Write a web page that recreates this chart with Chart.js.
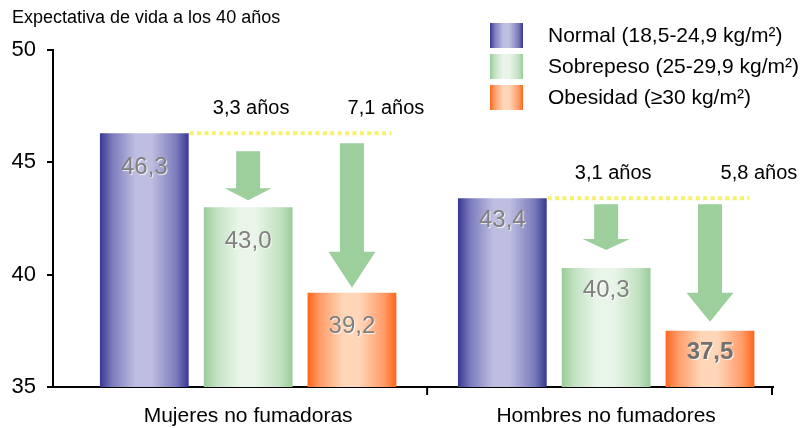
<!DOCTYPE html>
<html>
<head>
<meta charset="utf-8">
<script src="https://cdn.jsdelivr.net/npm/chart.js@4.4.1/dist/chart.umd.min.js"></script>
<style>
  html, body { margin: 0; padding: 0; background: #fff; }
  #wrap { width: 807px; height: 428px; }
</style>
</head>
<body>
<div id="wrap"><canvas id="c" width="807" height="428"></canvas></div>
<script>
// Life expectancy at age 40 by BMI group, non-smokers
const groups = ['Mujeres no fumadoras', 'Hombres no fumadores'];
const seriesNames = ['Normal (18,5-24,9 kg/m²)', 'Sobrepeso (25-29,9 kg/m²)', 'Obesidad (≥30 kg/m²)'];
const normal = [46.3, 43.4];
const sobrepeso = [43.0, 40.3];
const obesidad = [39.2, 37.5];
const yTicks = [35, 40, 45, 50];
const lossLabels = [['3,3 años', '7,1 años'], ['3,1 años', '5,8 años']];
const yTitle = 'Expectativa de vida a los 40 años';

const series = [normal, sobrepeso, obesidad];
const FONT = "'Liberation Sans', Arial, Helvetica, sans-serif";

// edge / middle / light tones of each bar's cylinder shading
const palettes = [
  { edge: '#373793', mid: '#7b7bbc', light: '#bebee1' },
  { edge: '#99cc99', mid: '#c2e2c2', light: '#eaf5ea' },
  { edge: '#ff661c', mid: '#ff9c68', light: '#ffd6b8' }
];

function shade(ctx, x0, x1, pal) {
  const g = ctx.createLinearGradient(x0, 0, x1, 0);
  g.addColorStop(0, pal.edge);
  g.addColorStop(0.14, pal.mid);
  g.addColorStop(0.4, pal.light);
  g.addColorStop(0.58, pal.light);
  g.addColorStop(0.86, pal.mid);
  g.addColorStop(1, pal.edge);
  return g;
}

function barFill(c, s) {
  const el = c.element;
  if (!el || !el.width) return palettes[s].mid;
  return shade(c.chart.ctx, el.x - el.width / 2, el.x + el.width / 2, palettes[s]);
}

// per-group drop of the value label below the bar top, and annotation styling
const valueDrop = [34, 22];
const valueBold = [[false, false, false], [false, false, true]];
const arrowStyle = [
  [{ start: 18, gap: 7, head: 12 }, { start: 10, gap: 5, head: 36 }],
  [{ start: 6, gap: 18, head: 11 }, { start: 6, gap: 9, head: 29 }]
];
const lossDx = [[3, 34], [7, 49]];

function drawArrow(ctx, cx, top, tip, head) {
  const shaft = 12, wing = 23.5;
  ctx.beginPath();
  ctx.moveTo(cx - shaft, top);
  ctx.lineTo(cx + shaft, top);
  ctx.lineTo(cx + shaft, tip - head);
  ctx.lineTo(cx + wing, tip - head);
  ctx.lineTo(cx, tip);
  ctx.lineTo(cx - wing, tip - head);
  ctx.lineTo(cx - shaft, tip - head);
  ctx.closePath();
  ctx.fill();
}

const decorations = {
  id: 'decorations',
  afterDatasetsDraw(chart) {
    const ctx = chart.ctx;
    const y = chart.scales.y;
    const metas = series.map((_, d) => chart.getDatasetMeta(d));

    groups.forEach((g, i) => {
      const nb = metas[0].data[i];
      const ob = metas[2].data[i];
      const refY = y.getPixelForValue(normal[i]);

      // dotted reference line at the normal-weight level
      ctx.save();
      ctx.strokeStyle = '#f7f06c';
      ctx.lineWidth = 4;
      ctx.setLineDash([4, 3.4]);
      ctx.beginPath();
      ctx.moveTo(nb.x + nb.width / 2 + 1, refY);
      ctx.lineTo(ob.x + ob.width / 2 - 5, refY);
      ctx.stroke();
      ctx.restore();

      // loss arrows and their labels
      [1, 2].forEach((d, k) => {
        const bar = metas[d].data[i];
        const st = arrowStyle[i][k];
        ctx.save();
        ctx.fillStyle = '#9dcf9d';
        drawArrow(ctx, bar.x, refY + st.start, bar.y - st.gap, st.head);
        ctx.fillStyle = '#000';
        ctx.font = '20px ' + FONT;
        ctx.textAlign = 'center';
        ctx.textBaseline = 'middle';
        ctx.fillText(lossLabels[i][k], bar.x + lossDx[i][k], refY - 25);
        ctx.restore();
      });

      // value labels inside the bars
      series.forEach((vals, d) => {
        const bar = metas[d].data[i];
        ctx.save();
        ctx.font = (valueBold[i][d] ? 'bold ' : '') + '24px ' + FONT;
        ctx.textAlign = 'center';
        ctx.textBaseline = 'middle';
        ctx.shadowColor = 'rgba(255,255,255,0.85)';
        ctx.shadowOffsetX = 1;
        ctx.shadowOffsetY = 1;
        ctx.shadowBlur = 1;
        ctx.fillStyle = valueBold[i][d] ? '#707070' : '#808080';
        ctx.fillText(vals[i].toFixed(1).replace('.', ','), bar.x, bar.y + valueDrop[i]);
        ctx.restore();
      });
    });

    // category separator ticks below the x axis
    const x = chart.scales.x;
    const area = chart.chartArea;
    ctx.save();
    ctx.strokeStyle = '#000';
    ctx.lineWidth = 2;
    const seps = [(x.getPixelForValue(0) + x.getPixelForValue(1)) / 2, area.right - 1];
    seps.forEach(px => {
      ctx.beginPath();
      ctx.moveTo(px, area.bottom);
      ctx.lineTo(px, area.bottom + 8);
      ctx.stroke();
    });
    ctx.restore();
  },
  afterDraw(chart) {
    const ctx = chart.ctx;
    ctx.save();
    // axis title
    ctx.fillStyle = '#000';
    ctx.font = '18px ' + FONT;
    ctx.textAlign = 'left';
    ctx.textBaseline = 'alphabetic';
    ctx.fillText(yTitle, 12, 23);

    // legend
    const tops = [23, 54, 85];
    seriesNames.forEach((name, s) => {
      const bx = 490, bw = 33, bh = 25, by = tops[s];
      ctx.fillStyle = shade(ctx, bx, bx + bw, palettes[s]);
      ctx.fillRect(bx, by, bw, bh);
      ctx.fillStyle = '#000';
      ctx.font = '21px ' + FONT;
      ctx.textBaseline = 'middle';
      ctx.fillText(name, 548, by + bh / 2 + 1);
    });
    ctx.restore();
  }
};

const chart = new Chart(document.getElementById('c'), {
  type: 'bar',
  data: {
    datasets: series.map((vals, s) => ({
      label: seriesNames[s],
      data: vals.map((v, i) => ({ x: i, y: v })),
      backgroundColor: c => barFill(c, s),
      borderWidth: 0
    }))
  },
  options: {
    responsive: false,
    animation: false,
    events: [],
    layout: { padding: { top: 50, right: 34, left: 0, bottom: 0 } },
    datasets: { bar: { categoryPercentage: 0.87, barPercentage: 0.855 } },
    plugins: {
      legend: { display: false },
      tooltip: { enabled: false },
      title: { display: false }
    },
    scales: {
      x: {
        type: 'linear',
        min: -0.545,
        max: 1.466,
        offset: false,
        afterBuildTicks: s => { s.ticks = groups.map((_, i) => ({ value: i })); },
        grid: { display: true, drawOnChartArea: false, drawTicks: false, color: '#000', lineWidth: 2 },
        border: { display: true, color: '#000', width: 2 },
        ticks: {
          callback: v => groups[v],
          font: { family: FONT, size: 21 },
          color: '#000',
          padding: 17,
          maxRotation: 0,
          autoSkip: false
        },
        afterFit: s => { s.height = 41; }
      },
      y: {
        min: 35,
        max: 50,
        afterBuildTicks: s => { s.ticks = yTicks.map(v => ({ value: v })); },
        grid: { display: true, drawOnChartArea: false, drawTicks: true, tickLength: 6, color: '#000', lineWidth: 2 },
        border: { display: true, color: '#000', width: 2 },
        ticks: { font: { family: FONT, size: 22 }, color: '#000', padding: 11 },
        afterFit: s => { s.width = 53; }
      }
    }
  },
  plugins: [decorations]
});
// second pass so the bar shading can follow the laid-out bar positions
chart.update();
</script>
</body>
</html>
